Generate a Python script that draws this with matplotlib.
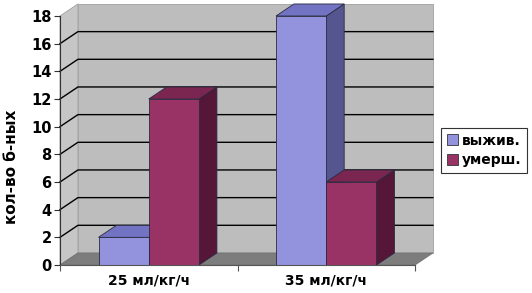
import matplotlib.pyplot as plt
from matplotlib.patches import Polygon, Patch

# данные
categories = ['25 мл/кг/ч', '35 мл/кг/ч']
series_names = ['выжив.', 'умерш.']
survived = [2, 18]
died = [12, 6]
y_ticks = list(range(0, 19, 2))

# цвета: (перед, верх, бок)
colors = {
    'выжив.': ('#9393dd', '#7373c4', '#55558f'),
    'умерш.': ('#993366', '#7a2650', '#551638'),
}

fig = plt.figure(figsize=(5.32, 2.93), dpi=100)
ax = fig.add_axes([60 / 532, 28 / 293, 355 / 532, 249 / 293])
ax.set_xlim(0, 2)
ax.set_ylim(0, 18)

dx = 0.101  # глубина по x (18 px)
dy = 0.87   # глубина по y (12 px)
ymax = 18

# стены и пол
left_wall = Polygon([(0, 0), (dx, dy), (dx, ymax + dy), (0, ymax)],
                    closed=True, fc='#c6c6c6', ec='#a0a0a0', lw=0.6, clip_on=False, zorder=1)
back_wall = Polygon([(dx, dy), (2 + dx, dy), (2 + dx, ymax + dy), (dx, ymax + dy)],
                    closed=True, fc='#bdbdbd', ec='#a0a0a0', lw=0.6, clip_on=False, zorder=1)
floor = Polygon([(0, 0), (2, 0), (2 + dx, dy), (dx, dy)],
                closed=True, fc='#7d7d7d', ec='#707070', lw=0.6, clip_on=False, zorder=1)
for p in (left_wall, back_wall, floor):
    ax.add_patch(p)

# линии сетки
for v in y_ticks[1:-1]:
    ax.plot([0, dx, 2 + dx], [v, v + dy, v + dy], color='black', lw=1.0,
            clip_on=False, zorder=2)

# столбцы
width = 0.283
for i, cat in enumerate(categories):
    center = i + 0.5
    for j, (name, vals) in enumerate(zip(series_names, [survived, died])):
        x0 = center - width + j * width
        x1 = x0 + width
        h = vals[i]
        front_c, top_c, side_c = colors[name]
        side = Polygon([(x1, 0), (x1 + dx, dy), (x1 + dx, h + dy), (x1, h)],
                       closed=True, fc=side_c, ec='#2a2a40', lw=0.6, clip_on=False, zorder=3)
        top = Polygon([(x0, h), (x1, h), (x1 + dx, h + dy), (x0 + dx, h + dy)],
                      closed=True, fc=top_c, ec='#2a2a40', lw=0.6, clip_on=False, zorder=3)
        front = Polygon([(x0, 0), (x1, 0), (x1, h), (x0, h)],
                        closed=True, fc=front_c, ec='#2a2a40', lw=0.6, clip_on=False, zorder=4)
        ax.add_patch(side)
        ax.add_patch(top)
        ax.add_patch(front)

# оси
for s in ['top', 'right']:
    ax.spines[s].set_visible(False)
ax.spines['left'].set_color('#333333')
ax.spines['bottom'].set_color('#555555')
ax.spines['left'].set_zorder(5)
ax.spines['bottom'].set_zorder(5)

ax.set_yticks(y_ticks)
ax.set_yticklabels([str(v) for v in y_ticks], fontsize=10.5, fontweight='bold')
ax.tick_params(axis='y', length=4, width=0.8, color='#333333', pad=2)

ax.set_xticks([0.5, 1.5])
ax.set_xticklabels(categories, fontsize=10, fontweight='bold')
ax.tick_params(axis='x', which='major', length=0, pad=6)
ax.set_xticks([0, 1, 2], minor=True)
ax.tick_params(axis='x', which='minor', length=4, width=0.8, color='#555555')

fig.text(0.022, 0.43, 'кол-во б-ных', rotation=90, fontsize=11, fontweight='bold',
         ha='center', va='center')

handles = [Patch(fc=colors[n][0], ec='#333333', lw=0.6) for n in series_names]
leg = fig.legend(handles, series_names, loc='center', bbox_to_anchor=(0.91, 0.487),
                 prop={'weight': 'bold', 'size': 10}, fancybox=False, framealpha=1,
                 edgecolor='#333333', handlelength=0.8, handleheight=0.8,
                 handletextpad=0.3, borderpad=0.4, labelspacing=0.4)
leg.get_frame().set_linewidth(0.8)

fig.savefig('out.png', dpi=100)
